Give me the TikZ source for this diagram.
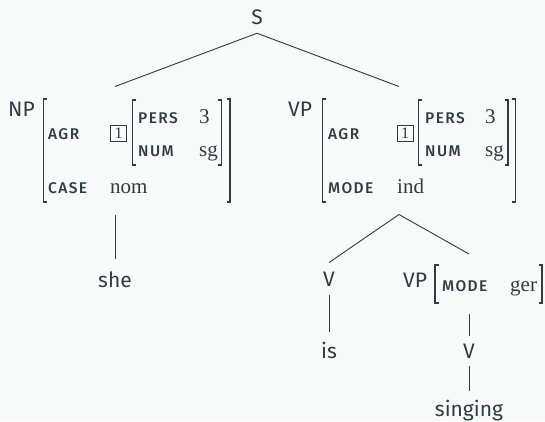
\documentclass[tikz,border=0pt]{standalone}
\usepackage{fontspec}
\newfontfamily\catfont{Fira Sans}
\newfontfamily\featfont{Fira Sans Medium}[LetterSpace=9]
\newfontfamily\valfont{Liberation Serif}
\definecolor{ink}{HTML}{2E3C43}
\definecolor{paper}{HTML}{F8F9F9}
\tikzset{
  cat/.style={font=\catfont\fontsize{21}{21}\selectfont, text=ink, inner sep=0pt, anchor=base},
  catw/.style={cat, anchor=base west},
  feat/.style={font=\featfont\fontsize{15.5}{15.5}\selectfont, text=ink, inner sep=0pt, anchor=base west},
  val/.style={font=\valfont\fontsize{21}{21}\selectfont, text=ink, inner sep=0pt, anchor=base west},
  tag/.style={draw=ink, line width=0.8pt, font=\valfont\fontsize{16}{16}\selectfont, text=ink,
              minimum width=16pt, minimum height=16pt, inner sep=0pt},
  slot/.style={inner sep=0pt, minimum width=0pt},
  edge/.style={draw=ink, line width=0.9pt},
  brk/.style={draw=ink, line width=1.2pt},
}
\begin{document}
\begin{tikzpicture}[x=1pt,y=-1pt]
  \fill[paper] (0,0) rectangle (545,421);
  \useasboundingbox (0,0) rectangle (545,421);

  % root
  \node[cat, outer ysep=9pt] (s) at (257,24) {S};

  % NP with its feature structure
  \node[slot, minimum height=104pt, outer ysep=12pt] (np) at (115,150.5) {};
  \node[catw] (np-label) at (8,116) {NP};
  \draw[brk] (47,99) -- (43.5,99) -- (43.5,202) -- (47,202);
  \draw[brk] (226.5,99) -- (230,99) -- (230,202) -- (226.5,202);
  \node[feat] (np-agr) at (48,139) {AGR};
  \node[tag] (np-tag) at (118.5,133.5) {1};
  \draw[brk] (136,100) -- (132.5,100) -- (132.5,165) -- (136,165);
  \draw[brk] (218,100) -- (221.5,100) -- (221.5,165) -- (218,165);
  \node[feat] (np-pers) at (138,123) {PERS};
  \node[val] (np-pers-v) at (199,123) {3};
  \node[feat] (np-num) at (138,156) {NUM};
  \node[val] (np-num-v) at (199,156) {sg};
  \node[feat] (np-case) at (48,193) {CASE};
  \node[val] (np-case-v) at (110,193) {nom};

  % VP with its feature structure
  \node[slot, minimum height=104pt, outer ysep=12pt] (vp) at (399,150.5) {};
  \node[catw] (vp-label) at (288,116) {VP};
  \draw[brk] (326,99) -- (322.5,99) -- (322.5,202) -- (326,202);
  \draw[brk] (512,99) -- (515.5,99) -- (515.5,202) -- (512,202);
  \node[feat] (vp-agr) at (328,139) {AGR};
  \node[tag] (vp-tag) at (405,133.5) {1};
  \draw[brk] (422,100) -- (418.5,100) -- (418.5,165) -- (422,165);
  \draw[brk] (504.5,100) -- (508,100) -- (508,165) -- (504.5,165);
  \node[feat] (vp-pers) at (425,123) {PERS};
  \node[val] (vp-pers-v) at (485,123) {3};
  \node[feat] (vp-num) at (425,156) {NUM};
  \node[val] (vp-num-v) at (485,156) {sg};
  \node[feat] (vp-mode) at (328,193) {MODE};
  \node[val] (vp-mode-v) at (397,193) {ind};

  % leaves and lower nodes
  \node[cat, outer ysep=12pt] (she) at (115,287) {she};
  \node[cat, outer ysep=9pt] (v1) at (329,286) {V};
  \node[cat, outer ysep=10pt] (is) at (329,358) {is};
  \node[slot, minimum height=38pt, outer ysep=11pt] (vp2) at (469,284) {};
  \node[catw] (vp2-label) at (403,287) {VP};
  \draw[brk] (438.5,265) -- (435,265) -- (435,303) -- (438.5,303);
  \draw[brk] (538.5,265) -- (542,265) -- (542,303) -- (538.5,303);
  \node[feat] (vp2-mode) at (442,291) {MODE};
  \node[val] (vp2-mode-v) at (510,291) {ger};
  \node[cat, outer ysep=8pt] (v2) at (469,358) {V};
  \node[cat, outer ysep=9pt] (singing) at (469,416) {singing};

  % branches
  \draw[edge] (s.south) -- (np.north);
  \draw[edge] (s.south) -- (vp.north);
  \draw[edge] (np.south) -- (she.north);
  \draw[edge] (vp.south) -- (v1.north);
  \draw[edge] (vp.south) -- (vp2.north);
  \draw[edge] (v1.south) -- (is.north);
  \draw[edge] (vp2.south) -- (v2.north);
  \draw[edge] (v2.south) -- (singing.north);
\end{tikzpicture}
\end{document}
